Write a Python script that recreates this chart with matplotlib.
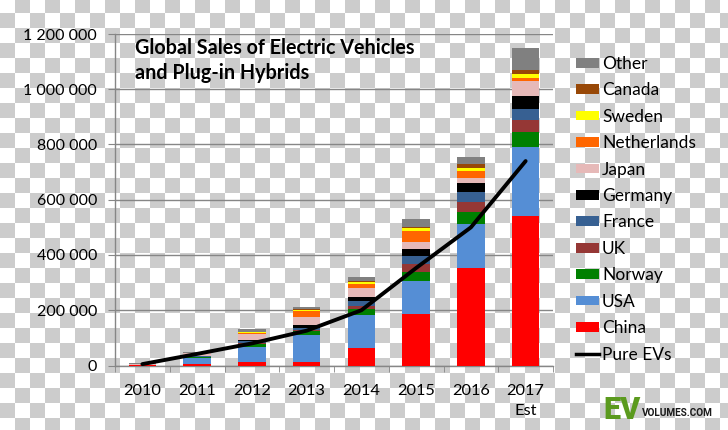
import numpy as np
import matplotlib
matplotlib.use("Agg")
import matplotlib.pyplot as plt
from matplotlib.colors import ListedColormap
from matplotlib.patches import Patch
from matplotlib.lines import Line2D
from matplotlib.ticker import FuncFormatter, MultipleLocator

plt.rcParams['font.family'] = ['Lato', 'DejaVu Sans']

# sales per country, thousands of vehicles
years = ['2010', '2011', '2012', '2013', '2014', '2015', '2016', '2017\nEst']
china = [1, 6, 13, 13, 64, 188, 352, 541]
usa = [1, 22, 54, 99, 117, 117, 159, 251]
norway = [0.5, 2, 10, 12, 24, 34, 46, 54]
uk = [0.3, 1, 5, 4, 12, 27, 36, 42]
france = [0.3, 3, 7, 9, 18, 31, 36, 40]
germany = [0.3, 1, 5, 8, 12, 23, 30, 48]
japan = [1, 9, 19, 32, 33, 28, 18, 54]
netherlands = [0.2, 1, 6, 20, 16, 40, 26, 9]
sweden = [0.1, 0.5, 2, 3, 6, 9, 13, 18]
canada = [0.1, 0.5, 2, 3, 4, 5, 14, 12]
other = [3, 4, 10, 9, 13, 29, 24, 82]
pure_ev = [5, 42, 80, 126, 200, 353, 500, 740]

series = [
    ('China', china, '#ff0000'),
    ('USA', usa, '#558ed5'),
    ('Norway', norway, '#008000'),
    ('UK', uk, '#953735'),
    ('France', france, '#376092'),
    ('Germany', germany, '#000000'),
    ('Japan', japan, '#e6b9b8'),
    ('Netherlands', netherlands, '#ff6600'),
    ('Sweden', sweden, '#ffff00'),
    ('Canada', canada, '#984807'),
    ('Other', other, '#808080'),
]

W, H = 728, 430
fig = plt.figure(figsize=(W / 100, H / 100), dpi=100)

# transparency checkerboard behind everything
bg = fig.add_axes([0, 0, 1, 1], zorder=-5)
rows = (np.arange(H) + 2) // 15
cols = np.arange(W) // 15
board = (rows[:, None] + cols[None, :]) % 2
bg.imshow(board, cmap=ListedColormap(['#ffffff', '#cccccc']),
          interpolation='nearest', aspect='auto', extent=(0, W, H, 0))
bg.axis('off')

left, right, top, bottom = 115, 553, 34, 365.5
ax = fig.add_axes([left / W, 1 - bottom / H, (right - left) / W, (bottom - top) / H])
ax.set_facecolor('none')

x = np.arange(len(years))
base = np.zeros(len(years))
for name, vals, col in series:
    v = np.array(vals) * 1000
    ax.bar(x, v, width=0.5, bottom=base, color=col, zorder=3)
    base += v

ax.plot(x, np.array(pure_ev) * 1000, color='black', lw=2.8,
        solid_capstyle='round', zorder=4)

ax.set_xlim(-0.5, len(years) - 0.5)
ax.set_ylim(0, 1200000)
ax.yaxis.set_major_locator(MultipleLocator(200000))
ax.yaxis.set_major_formatter(FuncFormatter(lambda v, p: f'{int(v):,}'.replace(',', ' ')))
ax.grid(axis='y', color='#868686', lw=1, zorder=0)

for s in ['top', 'right']:
    ax.spines[s].set_visible(False)
for s in ['left', 'bottom']:
    ax.spines[s].set_color('#868686')
    ax.spines[s].set_linewidth(1)

ax.set_xticks(x)
ax.set_xticklabels(years, fontsize=11.8, linespacing=1.6, va='top')
ax.set_xticks(np.arange(len(years) + 1) - 0.5, minor=True)
ax.tick_params(axis='x', which='major', length=0, pad=13)
ax.tick_params(axis='x', which='minor', length=4, color='#868686', direction='out')
ax.tick_params(axis='y', length=5, color='#868686', labelsize=11.5, pad=8)

fig.text(135 / W, 1 - 38 / H, 'Global Sales of Electric Vehicles\nand Plug-in Hybrids',
         fontsize=14.2, fontweight='bold', va='top', ha='left', linespacing=1.3)

handles = [Patch(facecolor=c, label=n) for n, _, c in reversed(series)]
handles.append(Line2D([], [], color='black', lw=2.5, label='Pure EVs'))
fig.legend(handles=handles, loc='upper left', bbox_to_anchor=(576 / W, 1 - 56 / H),
           frameon=False, fontsize=12.5, handlelength=1.32, handleheight=0.48,
           handletextpad=0.18, labelspacing=0.6, borderpad=0, borderaxespad=0)

fig.text(603 / W, 1 - 419 / H, 'EV', color='#5b9a1e', fontsize=22,
         fontweight='heavy', ha='left', va='baseline', family='Roboto')
fig.text(642 / W, 1 - 416 / H, 'VOLUMES.COM', color='#1a1a1a', fontsize=7.2,
         fontweight='bold', ha='left', va='baseline', family='Roboto')

fig.savefig('out.png', dpi=100)
